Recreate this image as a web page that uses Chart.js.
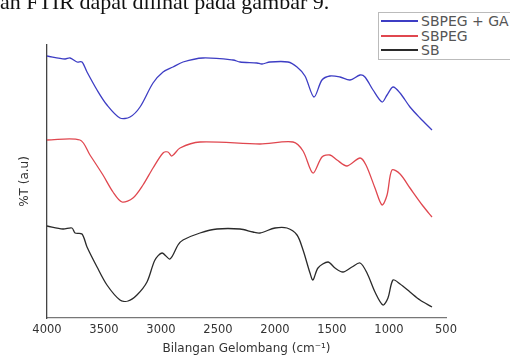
<!DOCTYPE html>
<html>
<head>
<meta charset="utf-8">
<script src="https://cdn.jsdelivr.net/npm/chart.js@4.4.1/dist/chart.umd.min.js"></script>
<style>
  html, body { margin: 0; padding: 0; background: #fff; }
  #wrap { position: relative; width: 510px; height: 358px; overflow: hidden; }
  #bodytext { position: absolute; left: 0; top: -9px; font-family: "Liberation Serif", serif; font-size: 22px; line-height: 22px; color: #111; white-space: nowrap; }
  #legend { position: absolute; left: 378px; top: 12px; width: 150px; border: 1px solid #bbb; background: #fff; padding: 1px 0; }
  .item { display: flex; align-items: center; height: 14.5px; font-family: "DejaVu Sans", sans-serif; font-size: 14px; color: #555; }
  .item span.ln { display: inline-block; width: 37px; height: 2px; margin: 0 3px 0 2px; }
</style>
</head>
<body>
<div id="wrap">
  <div id="bodytext">an FTIR dapat dilihat pada gambar 9.</div>
  <canvas id="chart" width="510" height="358"></canvas>
  <div id="legend"></div>
</div>
<script>
// wavenumbers (cm-1) and transmittance (arbitrary units, curves stacked)
let waveGA = [4000, 3842, 3798, 3737, 3693, 3649, 3561, 3474, 3360, 3272, 3184, 3070, 2982, 2895, 2807, 2632, 2368, 2307, 2158, 2114, 2044, 1886, 1807, 1737, 1658, 1588, 1518, 1430, 1342, 1254, 1211, 1140, 1061, 1017, 965, 903, 816, 728, 623];
let transGA = [262, 259, 260, 256, 256, 246, 228, 213, 200, 201, 211, 235, 246, 251, 256, 260, 258, 256, 255, 254, 256, 256, 251, 242, 221, 238, 242, 241, 238, 243, 241, 228, 216, 223, 231, 225, 211, 200, 188];

let wavePEG = [4000, 3711, 3623, 3509, 3421, 3342, 3246, 3158, 3070, 2982, 2939, 2904, 2833, 2658, 2132, 1842, 1754, 1667, 1588, 1518, 1456, 1368, 1254, 1202, 1123, 1061, 1017, 974, 903, 816, 702, 623];
let transPEG = [178, 178, 163, 143, 126, 116, 120, 133, 150, 165, 166, 162, 170, 176, 174, 176, 167, 145, 161, 163, 158, 152, 160, 153, 130, 113, 123, 148, 144, 130, 112, 101];

let waveSB = [4000, 3860, 3781, 3754, 3693, 3649, 3561, 3474, 3360, 3289, 3211, 3123, 3053, 2991, 2921, 2851, 2807, 2658, 2509, 2307, 2193, 2132, 2000, 1895, 1807, 1754, 1693, 1667, 1623, 1535, 1474, 1404, 1325, 1254, 1193, 1123, 1053, 1009, 965, 903, 816, 728, 623];
let transSB = [92, 89, 90, 85, 84, 71, 51, 33, 18, 17, 23, 36, 58, 65, 59, 73, 78, 85, 89, 89, 86, 85, 90, 90, 83, 68, 45, 38, 50, 56, 50, 46, 51, 55, 45, 26, 13, 20, 38, 34, 26, 18, 11];

let xTicks = [4000, 3500, 3000, 2500, 2000, 1500, 1000, 500];

let blue = '#3d3dc4';
let red = '#e0474f';
let black = '#2a2a2a';

function toPoints(xs, ys) {
  return xs.map((x, i) => ({x: x, y: ys[i]}));
}

let font = 'DejaVu Sans';

const myChart = new Chart('chart', {
  type: 'line',
  data: {
    datasets: [
      {label: 'SBPEG + GA', data: toPoints(waveGA, transGA), borderColor: blue},
      {label: 'SBPEG', data: toPoints(wavePEG, transPEG), borderColor: red},
      {label: 'SB', data: toPoints(waveSB, transSB), borderColor: black}
    ]
  },
  options: {
    responsive: false,
    animation: false,
    layout: {padding: {top: 45, right: 64, left: 0, bottom: 0}},
    elements: {
      point: {radius: 0},
      line: {borderWidth: 1.3, tension: 0.3, fill: false}
    },
    plugins: {
      legend: {display: false},
      tooltip: {enabled: false}
    },
    scales: {
      x: {
        type: 'linear',
        reverse: true,
        min: 500,
        max: 4000,
        afterFit: s => { s.height = 40; },
        afterBuildTicks: s => { s.ticks = xTicks.map(v => ({value: v})); },
        ticks: {
          color: '#333',
          font: {family: font, size: 11.5},
          padding: 5,
          maxRotation: 0,
          autoSkip: false,
          callback: v => String(v)
        },
        grid: {display: false, drawTicks: false},
        border: {display: true, color: '#777', width: 1.3},
        title: {
          display: true,
          text: 'Bilangan Gelombang (cm⁻¹)',
          color: '#333',
          font: {family: font, size: 12},
          padding: {top: 0, bottom: 2}
        }
      },
      y: {
        min: 0,
        max: 273,
        afterFit: s => { s.width = 47; },
        ticks: {display: false},
        grid: {display: false, drawTicks: false},
        border: {display: true, color: '#444', width: 1.3},
        title: {
          display: true,
          text: '%T (a.u)',
          color: '#333',
          font: {family: font, size: 12},
          padding: {top: 18, bottom: 0}
        }
      }
    }
  }
});

// legend box built from the chart's datasets
let legend = document.getElementById('legend');
myChart.data.datasets.forEach(ds => {
  let row = document.createElement('div');
  row.className = 'item';
  row.innerHTML = '<span class="ln" style="background:' + ds.borderColor + '"></span>' + ds.label;
  legend.appendChild(row);
});
</script>
</body>
</html>
